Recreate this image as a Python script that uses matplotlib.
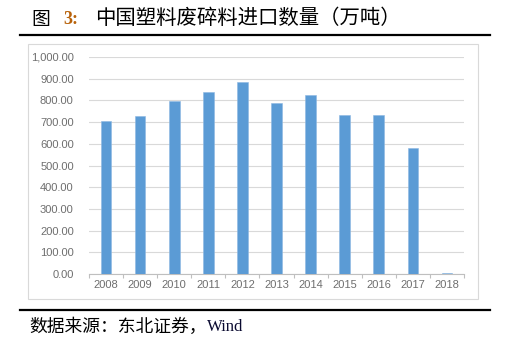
import matplotlib.pyplot as plt
from matplotlib.patches import Rectangle
from matplotlib.lines import Line2D
from matplotlib.ticker import FuncFormatter, FixedLocator

plt.rcParams['font.family'] = ['Noto Sans CJK SC', 'DejaVu Sans']

# * - - - Data
years = ["2008", "2009", "2010", "2011", "2012", "2013", "2014", "2015", "2016", "2017", "2018"]
imports = [705, 728, 797, 837, 885, 787, 824, 735, 732, 580, 5]

title_text = "中国塑料废碎料进口数量（万吨）"
source_text = "数据来源：东北证券，"

fig = plt.figure(figsize=(5.21, 3.62), dpi=100)
W, H = 521, 362

# * - - - Outer chart frame (light gray box)
fig.patches.append(Rectangle((28 / W, 1 - 299 / H), 450 / W, 255 / H,
                             transform=fig.transFigure, fill=False,
                             edgecolor="#D9D9D9", linewidth=0.8))

# * - - - Title and source lines
fig.add_artist(Line2D([20 / W, 490 / W], [1 - 35 / H, 1 - 35 / H],
                      transform=fig.transFigure, color="black", linewidth=1.6))
fig.add_artist(Line2D([20 / W, 490 / W], [1 - 310 / H, 1 - 310 / H],
                      transform=fig.transFigure, color="black", linewidth=1.6))

fig.text(31 / W, 1 - 19 / H, "图", fontsize=13.5, va="center", ha="left",
         family=["Noto Sans CJK SC"])
fig.text(63 / W, 1 - 19 / H, "3:", fontsize=13, va="center", ha="left",
         fontweight="bold", color="#B8620A", family=["Liberation Serif"])
fig.text(95 / W, 1 - 19 / H, title_text, fontsize=14.7, va="center", ha="left",
         family=["Noto Sans CJK SC"])

fig.text(29 / W, 1 - 327 / H, source_text, fontsize=12.8, va="center", ha="left",
         family=["Noto Sans CJK SC"])
fig.text(207 / W, 1 - 327 / H, "Wind", fontsize=12, va="center", ha="left",
         family=["Liberation Serif"], color="#0A0A30")

# * - - - Bar axes
ax = fig.add_axes([89 / W, 1 - 274 / H, 375 / W, 217 / H])
x = range(len(years))
ax.bar(x, imports, width=0.31, color="#5B9BD5", edgecolor="#8DB8E2", linewidth=0.4, zorder=3)

ax.set_xlim(-0.5, len(years) - 0.5)
ax.set_ylim(0, 1000)
ax.set_yticks(range(0, 1001, 100))
ax.yaxis.set_major_formatter(FuncFormatter(lambda v, p: f"{v:,.2f}"))
ax.grid(axis="y", color="#D9D9D9", linewidth=0.8, zorder=0)

ax.set_xticks(list(x))
ax.set_xticklabels(years)
ax.xaxis.set_minor_locator(FixedLocator([i - 0.5 for i in range(len(years) + 1)]))
ax.tick_params(axis="x", which="major", length=0, pad=4, labelsize=8,
               labelcolor="#6E6E6E")
ax.tick_params(axis="x", which="minor", length=3, color="#BFBFBF", width=0.8)
ax.tick_params(axis="y", length=0, pad=11, labelsize=8, labelcolor="#6E6E6E")
for lbl in ax.get_xticklabels() + ax.get_yticklabels():
    lbl.set_family(["Liberation Sans"])

for side in ["top", "right", "left"]:
    ax.spines[side].set_visible(False)
ax.spines["bottom"].set_color("#BFBFBF")
ax.spines["bottom"].set_linewidth(0.8)

fig.savefig("out.png", dpi=100)
